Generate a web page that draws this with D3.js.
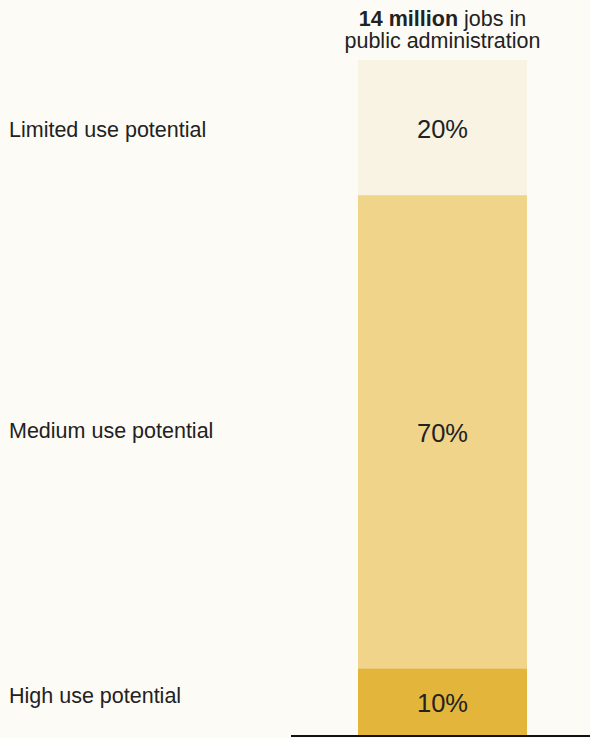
<!DOCTYPE html>
<html>
<head>
<meta charset="utf-8">
<script src="https://cdn.jsdelivr.net/npm/d3@7"></script>
<style>
  html, body { margin: 0; padding: 0; background: #fdfbf5; }
  svg { display: block; }
  text { font-family: "Liberation Sans", Arial, sans-serif; fill: #222; }
</style>
</head>
<body>
<svg id="chart" width="590" height="738"></svg>
<script>
// Share of public administration jobs by generative-AI use potential
const categories = ["Limited use potential", "Medium use potential", "High use potential"];
const shares = [20, 70, 10];
const colors = ["#f8f3e3", "#f0d48a", "#e3b53b"];
const headerBold = "14 million";
const headerRest = " jobs in";
const headerLine2 = "public administration";

const width = 590, height = 738;
const svg = d3.select("#chart");

const barLeft = 358, barRight = 527;
const barTop = 60, barBottom = 736;

// stack values top-to-bottom
let acc = 0;
const stacked = shares.map((v, i) => {
  const d = { cat: categories[i], value: v, y0: acc, y1: acc + v, color: colors[i] };
  acc += v;
  return d;
});

const y = d3.scaleLinear().domain([0, 100]).range([barTop, barBottom]);
const mid = d => (y(d.y0) + y(d.y1)) / 2;

const g = svg.append("g");

g.selectAll("rect.seg")
  .data(stacked)
  .join("rect")
  .attr("class", "seg")
  .attr("x", barLeft)
  .attr("width", barRight - barLeft)
  .attr("y", d => y(d.y0))
  .attr("height", d => y(d.y1) - y(d.y0))
  .attr("fill", d => d.color);

// value labels inside each segment
g.selectAll("text.val")
  .data(stacked)
  .join("text")
  .attr("class", "val")
  .attr("x", (barLeft + barRight) / 2)
  .attr("y", d => mid(d) + 1)
  .attr("dy", "0.36em")
  .attr("text-anchor", "middle")
  .attr("font-size", 25.5)
  .text(d => d.value + "%");

// category labels on the left, nudged slightly off segment centres
const labelNudge = [2, -2, -7];
g.selectAll("text.cat")
  .data(stacked)
  .join("text")
  .attr("class", "cat")
  .attr("x", 9)
  .attr("y", (d, i) => mid(d) + labelNudge[i])
  .attr("dy", "0.36em")
  .attr("font-size", 21.5)
  .text(d => d.cat);

// header above the bar
const hx = (barLeft + barRight) / 2;
const h1 = svg.append("text")
  .attr("x", hx)
  .attr("y", 26)
  .attr("text-anchor", "middle")
  .attr("font-size", 21.5);
h1.append("tspan").attr("font-weight", "bold").text(headerBold);
h1.append("tspan").text(headerRest);
svg.append("text")
  .attr("x", hx)
  .attr("y", 48)
  .attr("text-anchor", "middle")
  .attr("font-size", 21.5)
  .text(headerLine2);

// baseline
svg.append("line")
  .attr("x1", 291).attr("x2", width)
  .attr("y1", barBottom).attr("y2", barBottom)
  .attr("stroke", "#111")
  .attr("stroke-width", 2);
</script>
</body>
</html>
